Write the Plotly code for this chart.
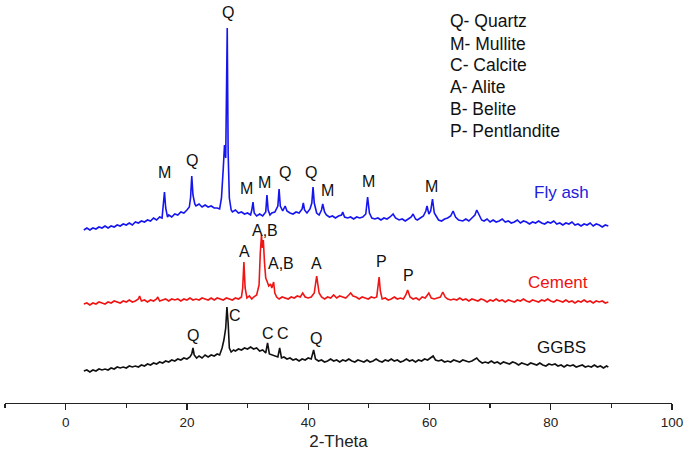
import plotly.graph_objects as go

# ---------------- data (2-Theta, stacked intensity a.u.) ----------------
fly_x = [3.0,3.5,4.0,4.5,5.0,5.5,6.0,6.5,7.0,7.5,8.0,8.5,9.0,9.5,10.0,10.5,11.0,11.5,12.0,12.5,
         13.0,13.5,14.0,14.5,15.0,15.5,15.9,16.1,16.3,16.5,16.8,17.0,17.5,18.0,18.5,19.0,19.5,20.0,
         20.4,20.6,20.8,21.0,21.3,21.5,22.0,22.5,23.0,23.5,24.0,24.5,25.0,25.4,25.7,26.0,26.2,26.4,
         26.55,26.65,26.8,27.0,27.3,27.5,28.0,28.5,29.0,29.5,30.0,30.5,30.7,30.9,31.1,31.5,32.0,32.5,
         33.0,33.2,33.4,33.7,34.0,34.5,35.0,35.2,35.4,35.8,36.2,36.5,37.0,37.5,38.0,38.5,39.0,39.2,
         39.4,39.8,40.3,40.6,40.8,41.0,41.4,41.8,42.2,42.4,42.7,43.0,43.5,44.0,44.5,45.0,45.5,45.7,
         46.0,46.5,47.0,47.5,48.0,48.5,49.0,49.5,49.8,50.1,50.5,51.0,51.5,52.0,52.5,53.0,53.5,54.0,
         54.4,55.0,55.5,56.0,56.5,57.0,57.3,57.7,58.0,58.5,59.0,59.4,59.6,59.9,60.2,60.5,60.8,61.2,
         61.5,62.0,62.5,63.0,63.5,63.9,64.3,64.8,65.5,66.0,66.5,67.0,67.5,67.8,68.2,68.6,69.0,69.5,
         70.0,70.5,71.0,71.5,72.0,72.5,73.0,73.5,74.0,74.5,75.0,75.5,76.0,76.5,77.0,77.5,78.0,78.5,
         79.0,79.5,80.0,80.5,81.0,81.5,82.0,82.5,83.0,83.5,84.0,84.5,85.0,85.5,86.0,86.5,87.0,87.5,
         88.0,88.5,89.0,89.5]
fly_y = [173,175,173,175,174,176,175,177,175,177,176,178,177,179,178,180,178,181,180,182,
         181,183,182,185,183,186,185,195,211,195,186,188,186,189,188,191,190,193,
         196,205,227,208,199,197,199,196,198,196,197,195,195,194,205,235,258,245,
         375,375,250,205,193,191,193,190,191,189,190,188,193,201,190,187,189,187,
         191,208,193,188,190,191,197,214,197,192,197,192,190,189,191,190,194,200,
         193,190,194,200,216,200,190,188,193,199,191,188,186,187,185,187,188,191,
         186,185,186,184,186,185,186,189,206,190,185,184,185,183,185,184,186,189,
         185,183,184,182,184,186,189,184,183,185,187,192,197,189,192,204,190,186,
         183,182,184,185,187,192,186,183,182,184,182,185,188,193,187,183,182,184,
         181,183,181,182,184,181,182,180,181,183,180,182,181,179,181,180,182,180,
         179,181,180,182,179,180,178,180,179,181,178,179,177,179,178,180,177,179,
         178,176,178,177]

cem_x = [3.0,3.5,4.0,4.5,5.0,5.5,6.0,6.5,7.0,7.5,8.0,8.5,9.0,9.5,10.0,10.5,11.0,11.5,12.0,12.2,
         12.5,13.0,13.5,14.0,14.5,15.0,15.2,15.5,16.0,16.5,17.0,17.5,18.0,18.5,19.0,19.5,20.0,20.5,
         21.0,21.5,22.0,22.5,23.0,23.5,24.0,24.5,25.0,25.5,26.0,26.5,27.0,27.5,28.0,28.5,29.0,29.2,
         29.4,29.6,29.9,30.3,30.7,31.0,31.5,31.9,32.1,32.3,32.45,32.6,32.8,33.0,33.2,33.5,33.8,34.0,
         34.3,34.5,34.8,35.2,35.7,36.2,36.7,37.2,37.7,38.2,38.7,39.1,39.5,40.0,40.5,41.0,41.4,41.8,
         42.2,42.7,43.2,43.7,44.2,44.7,45.2,45.7,46.2,46.7,47.0,47.4,47.9,48.4,48.9,49.4,49.9,50.4,
         50.9,51.3,51.5,51.7,51.9,52.2,52.7,53.2,53.7,54.2,54.7,55.2,55.7,56.1,56.4,56.8,57.3,57.8,
         58.3,58.8,59.3,59.9,60.3,60.8,61.3,61.8,62.2,62.6,63.0,63.5,64.0,64.5,65.0,65.5,66.0,66.5,
         67.0,67.5,68.0,68.5,69.0,69.5,70.0,70.5,71.0,71.5,72.0,72.5,73.0,73.5,74.0,74.5,75.0,75.5,
         76.0,76.5,77.0,77.5,78.0,78.5,79.0,79.5,80.0,80.5,81.0,81.5,82.0,82.5,83.0,83.5,84.0,84.5,
         85.0,85.5,86.0,86.5,87.0,87.5,88.0,88.5,89.0,89.5]
cem_y = [99,100,98,100,99,101,100,99,101,100,102,101,100,102,101,103,101,102,104,107,
         102,103,101,103,102,104,106,102,103,104,102,104,103,104,102,104,103,105,
         103,104,103,105,104,103,105,103,105,104,103,105,104,103,105,104,106,115,
         141,115,105,107,104,106,108,118,150,168,155,163,140,125,122,117,119,115,
         121,110,106,104,106,105,104,106,105,107,106,110,106,105,106,110,127,110,
         106,104,106,105,108,105,107,106,105,108,110,107,106,104,106,105,104,106,
         105,106,115,126,112,104,105,103,104,106,104,105,104,108,113,106,104,105,
         103,106,105,110,105,104,105,106,111,106,104,103,104,103,105,103,104,102,
         104,103,102,104,103,101,103,102,104,102,103,101,103,102,101,103,102,104,
         102,101,103,102,101,103,102,104,102,101,103,102,101,103,101,102,100,102,
         101,103,101,102,100,102,101,102,100,101]

ggbs_x = [3.0,3.5,4.0,4.5,5.0,5.5,6.0,6.5,7.0,7.5,8.0,8.5,9.0,9.5,10.0,10.5,11.0,11.5,12.0,12.5,
          13.0,13.5,14.0,14.5,15.0,15.5,16.0,16.5,17.0,17.5,18.0,18.5,19.0,19.5,20.0,20.5,20.8,21.0,
          21.2,21.6,22.0,22.5,23.0,23.5,24.0,24.5,25.0,25.4,25.8,26.1,26.4,26.6,26.8,27.0,27.3,27.7,
          28.0,28.5,29.0,29.5,30.0,30.5,31.0,31.5,32.0,32.5,33.0,33.3,33.6,34.0,34.5,35.0,35.3,35.6,
          36.0,36.5,37.0,37.5,38.0,38.5,39.0,39.5,40.0,40.5,40.9,41.2,41.7,42.2,42.7,43.2,43.7,44.2,
          44.7,45.2,45.7,46.2,46.7,47.2,47.7,48.2,48.7,49.2,49.7,50.2,50.7,51.2,51.7,52.2,52.7,53.2,
          53.7,54.2,54.7,55.2,55.7,56.2,56.7,57.2,57.7,58.2,58.7,59.2,59.7,60.2,60.6,61.0,61.5,62.0,
          62.5,63.0,63.5,64.0,64.5,65.0,65.5,66.0,66.5,67.0,67.5,67.8,68.2,68.7,69.2,69.7,70.2,70.7,
          71.2,71.7,72.2,72.7,73.2,73.7,74.2,74.7,75.2,75.7,76.2,76.7,77.2,77.7,78.2,78.7,79.2,79.7,
          80.2,80.7,81.2,81.7,82.2,82.7,83.2,83.7,84.2,84.7,85.2,85.7,86.2,86.7,87.2,87.7,88.2,88.7,
          89.2,89.5]
ggbs_y = [32,33,31,33,32,34,33,34,33,35,34,36,35,36,35,37,36,37,36,38,
          37,39,38,40,39,41,40,42,41,43,42,44,43,45,44,46,49,55,
          48,45,47,45,48,46,48,47,49,48,55,63,75,96,80,55,51,53,
          52,54,53,55,54,56,54,55,52,53,50,60,49,48,47,46,55,45,
          46,44,45,43,44,42,44,43,45,44,53,44,42,43,41,42,44,42,
          43,41,43,42,44,42,41,43,42,41,43,41,42,44,42,41,43,42,
          44,42,43,41,42,44,42,43,41,43,42,44,43,45,47,43,42,43,
          41,42,41,43,42,41,43,42,41,42,44,45,42,40,41,40,42,40,
          41,39,41,40,39,41,40,38,40,39,38,40,39,38,40,38,37,39,
          38,39,37,38,36,38,37,38,36,37,38,36,37,36,38,36,37,35,
          37,36]

series_names = ["Fly ash", "Cement", "GGBS"]
series_colors = ["#1515f0", "#f01515", "#111111"]

# peak labels: (text, 2-theta, height)
fly_peaks = [("M",16.3,231),("Q",20.8,243),("Q",26.7,391),("M",29.9,215),("M",32.8,221),
             ("Q",36.1,231),("Q",40.4,231),("M",43.2,213),("M",50.0,222),("M",60.4,217)]
cem_peaks = [("A",29.5,152),("A,B",32.8,173),("A,B",35.5,140),("A",41.4,140),
             ("P",52.1,142),("P",56.6,128)]
ggbs_peaks = [("Q",21.0,68),("C",27.9,88),("C",33.3,70),("C",35.8,70),("Q",41.3,65)]

series_labels = [("Fly ash",81.8,211),("Cement",81.2,121),("GGBS",81.8,56)]
key_lines = ["Q- Quartz","M- Mullite","C- Calcite","A- Alite","B- Belite","P- Pentlandite"]
key_heights = [382,359,338,316,294,272]

tick_vals = [0,20,40,60,80,100]

# ---------------- figure ----------------
FONT = "Liberation Sans, Arial, sans-serif"
fig = go.Figure()
for xs, ys, name, col in zip([fly_x, cem_x, ggbs_x], [fly_y, cem_y, ggbs_y], series_names, series_colors):
    fig.add_trace(go.Scatter(x=xs, y=ys, mode="lines", name=name,
                             line=dict(color=col, width=1.6), showlegend=False))

for txt, x, y in fly_peaks + cem_peaks + ggbs_peaks:
    fig.add_annotation(x=x, y=y, text=txt, showarrow=False,
                       font=dict(family=FONT, size=16, color="#111111"))

for (txt, x, y), col in zip(series_labels, ["#2020dd", "#ee1111", "#111111"]):
    fig.add_annotation(x=x, y=y, text=txt, showarrow=False,
                       font=dict(family=FONT, size=17, color=col))

for txt, y in zip(key_lines, key_heights):
    fig.add_annotation(x=63.0, y=y, text=txt, showarrow=False, xanchor="left",
                       font=dict(family=FONT, size=17.5, color="#111111"))

fig.update_layout(
    width=685, height=460,
    margin=dict(l=5, r=13, t=0, b=57),
    paper_bgcolor="white", plot_bgcolor="white",
    font=dict(family=FONT, color="#222222"),
    xaxis=dict(range=[-10, 100], tickvals=tick_vals, ticks="outside", ticklen=6,
               tickwidth=1.2, tickcolor="#222222", showline=True, linecolor="#222222",
               linewidth=1.3, showgrid=False, zeroline=False,
               tickfont=dict(size=13.5, color="#222222"),
               minor=dict(dtick=10, tick0=0, ticks="outside", ticklen=4, tickcolor="#222222", showgrid=False),
               title=dict(text="2-Theta", font=dict(size=17, color="#222222"), standoff=6)),
    yaxis=dict(range=[0, 403], visible=False, showgrid=False, zeroline=False),
)

fig.write_html("out.html", config={"displayModeBar": False, "staticPlot": True},
               post_script="document.body.style.margin='0';document.body.style.padding='0';")
